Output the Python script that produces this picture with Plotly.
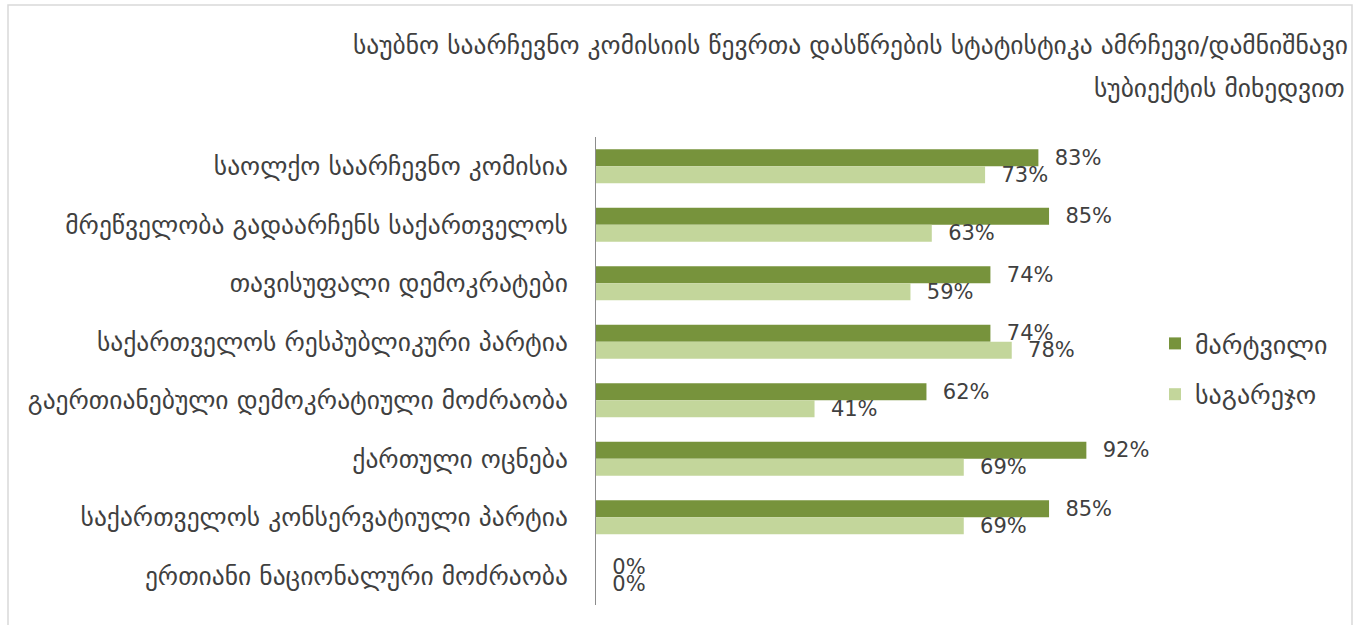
import plotly.graph_objects as go

categories = [
    "საოლქო საარჩევნო კომისია",
    "მრეწველობა გადაარჩენს საქართველოს",
    "თავისუფალი დემოკრატები",
    "საქართველოს რესპუბლიკური პარტია",
    "გაერთიანებული დემოკრატიული მოძრაობა",
    "ქართული ოცნება",
    "საქართველოს კონსერვატიული პარტია",
    "ერთიანი ნაციონალური მოძრაობა",
]
series_names = ["მარტვილი", "საგარეჯო"]
martvili = [0.83, 0.85, 0.74, 0.74, 0.62, 0.92, 0.85, 0.0]
sagarejo = [0.73, 0.63, 0.59, 0.78, 0.41, 0.69, 0.69, 0.0]
title_lines = [
    "საუბნო საარჩევნო კომისიის წევრთა დასწრების სტატისტიკა ამრჩევი/დამნიშნავი",
    "სუბიექტის მიხედვით",
]

W, H = 1358, 625
L, R, T, B = 596, 229, 137, 20
PW, PH = W - L - R, H - T - B
FONT = "DejaVu Sans"
TXT = "#404040"
GEO_SIZE = 25.5

def px_x(px):
    return (px - L) / PW

def px_y(py):
    return (H - B - py) / PH

colors = ["#77933C", "#C3D69B"]
fig = go.Figure()
for name, vals, col in zip(series_names, [martvili, sagarejo], colors):
    fig.add_trace(go.Bar(
        y=categories, x=vals, orientation="h", name=name,
        marker=dict(color=col, line=dict(width=0)),
        texttemplate="\u00a0\u00a0%{x:.0%}", textposition="outside",
        textfont=dict(family=FONT, size=21, color=TXT),
        constraintext="none", cliponaxis=False,
        legendgroup=name, hoverinfo="skip",
    ))

fig.update_layout(
    width=W, height=H,
    margin=dict(l=L, r=R, t=T, b=B),
    paper_bgcolor="white", plot_bgcolor="white",
    barmode="group", bargap=0.42, bargroupgap=0,
    font=dict(family=FONT, color=TXT, size=20),
    xaxis=dict(range=[0, 1.0], visible=False, fixedrange=True),
    yaxis=dict(autorange="reversed", showline=True, linecolor="#8c8c8c", linewidth=1,
               showgrid=False, ticks="", ticklabelstandoff=22, fixedrange=True,
               tickfont=dict(family=FONT, size=GEO_SIZE, color=TXT)),
    legend=dict(x=px_x(1155), y=px_y(369), xanchor="left", yanchor="middle",
                traceorder="grouped", tracegroupgap=14,
                font=dict(family=FONT, size=26, color=TXT), bgcolor="rgba(0,0,0,0)"),
    showlegend=True,
)

fig.add_annotation(text=title_lines[0], xref="paper", yref="paper",
                   x=px_x(1350), y=px_y(45), xanchor="right", yanchor="middle",
                   showarrow=False, font=dict(family=FONT, size=GEO_SIZE, color=TXT))
fig.add_annotation(text=title_lines[1], xref="paper", yref="paper",
                   x=px_x(1347), y=px_y(88), xanchor="right", yanchor="middle",
                   showarrow=False, font=dict(family=FONT, size=GEO_SIZE, color=TXT))

fig.add_shape(type="rect", xref="paper", yref="paper",
              x0=px_x(8), x1=px_x(1352), y0=px_y(660), y1=px_y(5),
              line=dict(color="#d9d9d9", width=1.5), fillcolor="rgba(0,0,0,0)", layer="below")

fig.write_html("out.html", config={"displayModeBar": False},
               post_script="document.body.style.margin='0';")
